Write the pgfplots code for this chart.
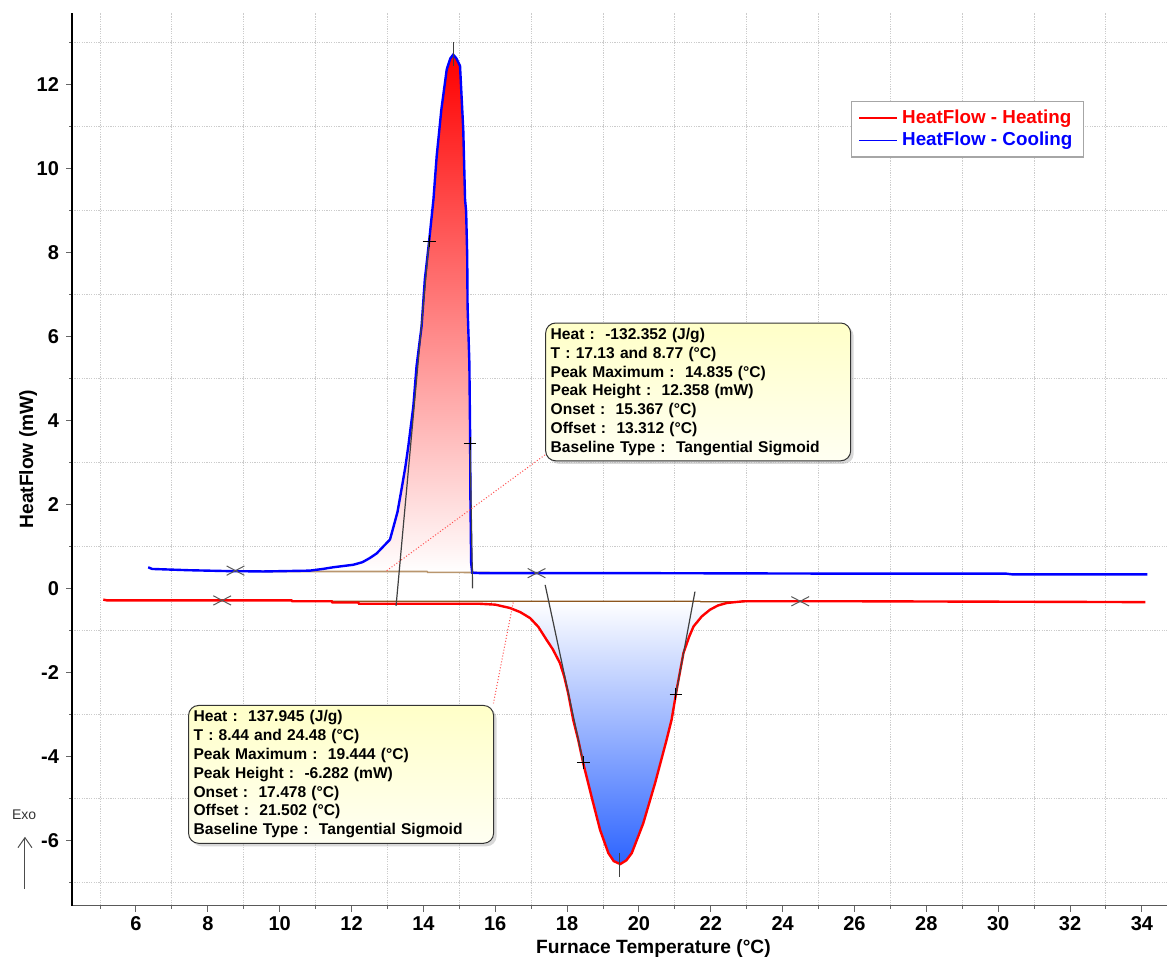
\documentclass[border=0pt]{standalone}
\usepackage{fontspec}
\setmainfont{Liberation Sans}
\usepackage{pgfplots}
\pgfplotsset{compat=1.18}
\usepgfplotslibrary{fillbetween}
\usetikzlibrary{shadows,arrows.meta}

\definecolor{coolblue}{RGB}{0,0,255}
\definecolor{heatred}{RGB}{255,0,0}
\definecolor{basebrown}{RGB}{140,85,30}
\definecolor{basetan}{RGB}{185,150,110}
\definecolor{peakblue}{RGB}{45,100,255}
\definecolor{boxtop}{RGB}{255,255,200}
\definecolor{boxbot}{RGB}{255,255,242}

\tikzset{infobox/.style={anchor=north west, draw=black!80, line width=0.5pt,
    rounded corners=5pt, top color=boxtop, bottom color=boxbot,
    drop shadow={shadow xshift=1.5pt, shadow yshift=-1.5pt, fill=gray!60},
    inner xsep=2.5pt, inner ysep=2.6pt, text width=147.5pt, align=left,
    font=\fontsize{7.8}{9.4}\selectfont\bfseries}}

\begin{document}
\begin{tikzpicture}
\begin{axis}[
  set layers,
  clip=false,
  width=547.5pt, height=446.5pt, scale only axis,
  xmin=4.22, xmax=34.7, ymin=-7.56, ymax=13.71,
  axis x line*=bottom, axis y line*=left,
  x axis line style={black!65, line width=0.8pt},
  y axis line style={black, line width=1pt},
  xtick={6,8,...,34}, minor xtick={5,7,...,33},
  ytick={-6,-4,...,12}, minor ytick={-7,-5,...,13},
  tick align=outside,
  major tick length=3pt, minor tick length=1.5pt,
  tick style={black!60, line width=0.5pt},
  xminorgrids, yminorgrids,
  minor grid style={gray!40, dash pattern=on 0.6pt off 0.6pt, line width=0.5pt},
  /pgf/number format/assume math mode=true,
  tick label style={font=\fontsize{10}{12}\selectfont\bfseries},
  xticklabel style={yshift=1pt},
  xlabel={Furnace Temperature (°C)},
  xlabel style={at={(axis description cs:0.531,-0.0475)}, anchor=center,
    font=\fontsize{9.6}{11}\selectfont\bfseries},
  ylabel={HeatFlow (mW)},
  ylabel style={at={(axis description cs:-0.040,0.5)}, anchor=center,
    font=\fontsize{9.6}{11}\selectfont\bfseries},
  legend style={at={(axis description cs:0.7114,0.901)}, anchor=north west,
    draw=gray!70, line width=0.6pt, fill=white,
    font=\fontsize{9.4}{10.8}\selectfont\bfseries,
    inner xsep=3.5pt, inner ysep=2pt, row sep=-1pt},
  legend image code/.code={\draw[#1, line width=0.8pt] (0pt,0pt) -- (19pt,0pt);},
  legend cell align=left,
]

% baselines (under the curves)
\addplot[basebrown, line width=0.6pt, name path=hbase, forget plot] coordinates {
  (11.45,-0.31) (21.70,-0.31) (21.72,-0.32) (22.95,-0.32)
};
\addplot[basetan, line width=0.8pt, name path=cbase, forget plot] coordinates {
  (9.50,0.40) (14.10,0.40) (14.12,0.38) (17.13,0.37)
};

% heating run
\addplot[heatred, line width=1.2pt, name path=heat] coordinates {
  (5.09,-0.27) (5.20,-0.29) (8.00,-0.29) (10.33,-0.29) (10.35,-0.31)
  (11.45,-0.31) (11.47,-0.34) (12.19,-0.34) (12.21,-0.37) (15.58,-0.37)
  (16.00,-0.39) (16.41,-0.47) (16.70,-0.57) (16.97,-0.71) (17.20,-0.92)
  (17.43,-1.23) (17.60,-1.45) (17.80,-1.78) (17.92,-2.10) (18.03,-2.50)
  (18.17,-3.13) (18.31,-3.61) (18.45,-4.17) (18.68,-4.96) (18.92,-5.76)
  (19.15,-6.31) (19.30,-6.50) (19.48,-6.57) (19.65,-6.48) (19.80,-6.31)
  (20.12,-5.60) (20.45,-4.64) (20.77,-3.61) (20.91,-3.13) (21.05,-2.42)
  (21.24,-1.54) (21.40,-1.15) (21.52,-0.91) (21.75,-0.67) (21.98,-0.51)
  (22.20,-0.41) (22.45,-0.35) (22.91,-0.31) (26.00,-0.31) (30.00,-0.32)
  (34.10,-0.33)
};
\addlegendentry{\textcolor{heatred}{HeatFlow - Heating}}

% cooling run
\addplot[coolblue, line width=1.2pt, name path=cool] coordinates {
  (6.34,0.50) (6.45,0.46) (7.46,0.43) (8.50,0.41) (9.54,0.40) (10.20,0.41)
  (10.84,0.42) (11.20,0.46) (11.49,0.50) (12.05,0.56) (12.30,0.62)
  (12.51,0.72) (12.70,0.83) (12.89,1.00) (13.07,1.16) (13.17,1.47)
  (13.28,1.82) (13.40,2.40) (13.50,2.90) (13.58,3.38) (13.72,4.33)
  (13.81,5.29) (13.95,6.24) (14.04,7.35) (14.16,8.27) (14.28,9.26)
  (14.37,10.29) (14.50,11.40) (14.65,12.36) (14.75,12.62) (14.83,12.71)
  (14.92,12.62) (15.02,12.44) (15.11,10.93) (15.16,9.26) (15.19,8.98)
  (15.22,7.91) (15.23,6.72) (15.28,5.37) (15.30,3.70) (15.31,2.11)
  (15.33,0.60) (15.36,0.37) (15.60,0.36) (17.15,0.36) (20.00,0.36)
  (25.00,0.35) (30.20,0.35) (30.40,0.33) (34.15,0.33)
};
\addlegendentry{\textcolor{coolblue}{HeatFlow - Cooling}}

% peak areas (pre main layer, below the curves)
\addplot[top color=white, bottom color=peakblue, draw=none, forget plot]
  fill between[of=heat and hbase, soft clip={domain=15.9:22.9}];
\addplot[top color=heatred, bottom color=white, draw=none, forget plot]
  fill between[of=cool and cbase, soft clip={domain=12.0:15.35}];

% tangents and peak markers
\addplot[black!75, line width=0.6pt, forget plot] coordinates {(13.24,-0.42) (14.16,8.27)};
\addplot[black!75, line width=0.6pt, forget plot] coordinates {(15.30,3.44) (15.37,0.00)};
\addplot[black!75, line width=0.6pt, forget plot] coordinates {(14.835,12.45) (14.835,13.00)};
\addplot[black!75, line width=0.6pt, forget plot] coordinates {(17.39,0.08) (18.45,-4.15)};
\addplot[black!75, line width=0.6pt, forget plot] coordinates {(21.03,-2.52) (21.56,-0.08)};
\addplot[black!75, line width=0.6pt, forget plot] coordinates {(19.45,-6.30) (19.45,-6.87)};

% limits of integration
\addplot[only marks, mark=x, mark size=3.3pt, forget plot,
  mark options={xscale=1.9, black!65, line width=0.5pt}] coordinates {
  (8.77,0.42) (17.15,0.36) (8.40,-0.29) (24.49,-0.31)
};
\addplot[only marks, mark=+, mark size=3.2pt, forget plot,
  mark options={black, line width=0.5pt}] coordinates {
  (14.16,8.27) (15.30,3.44) (18.45,-4.15) (21.03,-2.52)
};

% leaders to the result boxes
\draw[red!70, densely dotted, line width=0.5pt] (axis cs:12.98,0.42) -- (axis cs:17.39,3.18);
\draw[red!70, densely dotted, line width=0.5pt] (axis cs:16.50,-0.34) -- (axis cs:15.95,-2.74);

\node[infobox] at (axis cs:17.39,6.33) {%
  Heat :\ \ -132.352 (J/g)\\
  T : 17.13 and 8.77 (°C)\\
  Peak Maximum :\ \ 14.835 (°C)\\
  Peak Height :\ \ 12.358 (mW)\\
  Onset :\ \ 15.367 (°C)\\
  Offset :\ \ 13.312 (°C)\\
  Baseline Type :\ \ Tangential Sigmoid};

\node[infobox] at (axis cs:7.45,-2.78) {%
  Heat :\ \ 137.945 (J/g)\\
  T : 8.44 and 24.48 (°C)\\
  Peak Maximum :\ \ 19.444 (°C)\\
  Peak Height :\ \ -6.282 (mW)\\
  Onset :\ \ 17.478 (°C)\\
  Offset :\ \ 21.502 (°C)\\
  Baseline Type :\ \ Tangential Sigmoid};

% exo direction
\node[font=\fontsize{7}{8}\selectfont, black!80] at (axis description cs:-0.0438,0.1016) {Exo};
\draw[-{Straight Barb[length=5pt,width=7pt]}, black!70, line width=0.5pt]
  (axis description cs:-0.043,0.0187) -- (axis description cs:-0.043,0.0771);

% page extent
\path (axis description cs:-0.0658,-0.0586) rectangle (axis description cs:1.0009,1.0142);
\end{axis}
\end{tikzpicture}
\end{document}
